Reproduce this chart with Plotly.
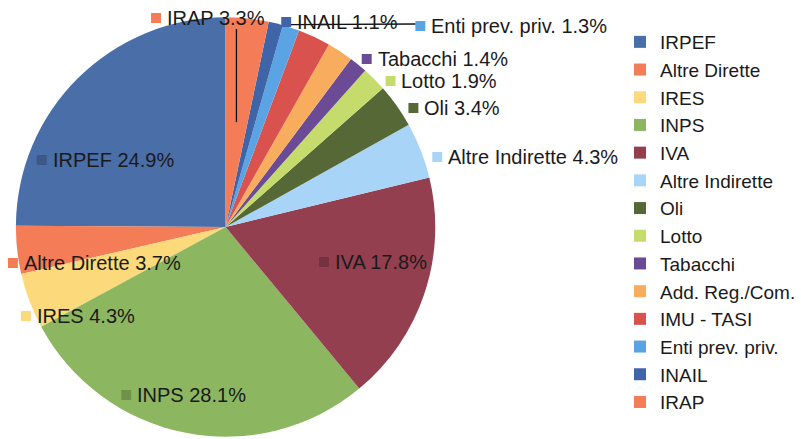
import math
import plotly.graph_objects as go

# ---- data ----
labels = ["IRPEF", "Altre Dirette", "IRES", "INPS", "IVA", "Altre Indirette", "Oli",
          "Lotto", "Tabacchi", "Add. Reg./Com.", "IMU - TASI", "Enti prev. priv.",
          "INAIL", "IRAP"]
values = [24.9, 3.7, 4.3, 28.1, 17.8, 4.3, 3.4, 1.9, 1.4, 2.0, 2.5, 1.3, 1.1, 3.3]
show_label = [True, True, True, True, True, True, True, True, True, False, False,
              True, True, True]

# ---- style ----
colors = ["#4A6EA8", "#F47C56", "#FCDA7C", "#8DB660", "#933F50", "#A8D5F7", "#566836",
          "#C5DC6C", "#6B4B95", "#F8AC5E", "#D9524E", "#5BA4E3", "#3F64A8", "#F47C56"]
W, H = 801, 439
CX, CY, R = 227, 227, 211          # pie centre / radius in pixels
FONT = "Liberation Sans, Arial, sans-serif"
TXT = "#1a1a1a"

# label placement (pixel position of the colour key square: left x, centre y)
label_pos = {
    "IRPEF": (37, 160), "Altre Dirette": (8, 263), "IRES": (21, 316),
    "INPS": (122, 395), "IVA": (321, 262), "Altre Indirette": (435, 157),
    "Oli": (411, 108), "Lotto": (388, 81), "Tabacchi": (364, 59),
    "Enti prev. priv.": (418, 26), "INAIL": (283, 22), "IRAP": (152, 18),
}
inside = {"IRPEF", "IVA", "INPS"}


def px(x):
    return x / W


def py(y):
    return 1 - y / H


def darker(hexcol, f=0.8):
    r, g, b = (int(hexcol[i:i + 2], 16) for i in (1, 3, 5))
    return "#%02X%02X%02X" % (int(r * f), int(g * f), int(b * f))


total = sum(values)
# first slice must end at 12 o'clock going counter-clockwise (IRPEF on the left)
rot = -360.0 * values[0] / total

fig = go.Figure(go.Pie(
    labels=labels, values=values, sort=False, direction="counterclockwise",
    rotation=rot, marker=dict(colors=colors, line=dict(width=0)),
    textinfo="none", hoverinfo="label+percent",
    domain=dict(x=[px(CX - R), px(CX + R)], y=[py(CY + R), py(CY - R)]),
))

# slice mid angles (degrees, math convention) derived from the data
mid = {}
start = 90.0
for lab, v in zip(labels, values):
    span = 360.0 * v / total
    mid[lab] = start + span / 2
    start += span

annotations = []
shapes = []
SQ = 10
for lab, v, c, show in zip(labels, values, colors, show_label):
    if not show:
        continue
    sx, sy = label_pos[lab]
    fill = darker(c) if lab in inside else c
    shapes.append(dict(type="rect", xref="paper", yref="paper",
                       x0=px(sx), x1=px(sx + SQ), y0=py(sy + SQ / 2), y1=py(sy - SQ / 2),
                       fillcolor=fill, line=dict(width=0), layer="above"))
    annotations.append(dict(xref="paper", yref="paper", x=px(sx + SQ + 4), y=py(sy),
                            xanchor="left", yanchor="middle", showarrow=False,
                            text=f"{lab} {v:.1f}%",
                            font=dict(family=FONT, size=20, color=TXT)))

# leader line: IRAP (from label down into slice)
a = math.radians(mid["IRAP"])
ex, ey = CX + 0.5 * R * math.cos(a), CY - 0.5 * R * math.sin(a)
shapes.append(dict(type="line", xref="paper", yref="paper",
                   x0=px(ex), x1=px(ex), y0=py(ey), y1=py(label_pos["IRAP"][1] + 11),
                   line=dict(color="#111111", width=1.3), layer="above"))
# leader line: Enti prev. priv. (from slice edge to label)
a = math.radians(mid["Enti prev. priv."])
ex, ey = CX + R * math.cos(a), CY - R * math.sin(a)
lx, ly = label_pos["Enti prev. priv."]
shapes.append(dict(type="line", xref="paper", yref="paper",
                   x0=px(ex), x1=px(lx), y0=py(ey - 2), y1=py(ly - 2),
                   line=dict(color="#111111", width=1.3), layer="above"))

fig.update_layout(
    width=W, height=H, margin=dict(l=0, r=0, t=0, b=0),
    paper_bgcolor="white", plot_bgcolor="white",
    showlegend=True,
    legend=dict(x=px(624), y=py(23), xanchor="left", yanchor="top",
                font=dict(family=FONT, size=19, color=TXT),
                bgcolor="rgba(0,0,0,0)", traceorder="normal"),
    annotations=annotations, shapes=shapes,
)

fig.write_html("out.html", config={"displayModeBar": False},
               post_script="document.body.style.margin='0';document.body.style.overflow='hidden';")
